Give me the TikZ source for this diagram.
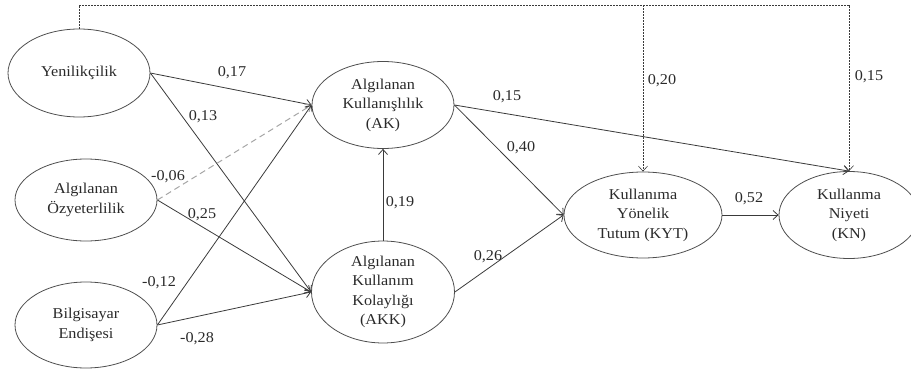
\documentclass[tikz,border=0pt]{standalone}
\usepackage{fontspec}
\setmainfont[FakeStretch=1.08]{Liberation Serif}
\usetikzlibrary{shapes.geometric,arrows.meta}
\definecolor{ln}{HTML}{3A3A3A}
\definecolor{tx}{HTML}{2A2A2A}
\tikzset{
  lv/.style={draw=ln!90, ellipse, line width=0.8pt, inner sep=0pt, align=center,
    text=tx, font=\fontsize{15}{19.5}\selectfont},
  pth/.style={draw=ln, line width=0.8pt, -{Straight Barb[length=5pt,width=9pt]}},
  dpth/.style={draw=ln, line width=0.6pt, dash pattern=on 2pt off 1pt, -{Straight Barb[length=5pt,width=9pt]}},
  gpth/.style={draw=black!35, line width=1pt, dash pattern=on 6pt off 4pt, -{Straight Barb[length=5pt,width=9pt]}},
  lbl/.style={text=tx, font=\fontsize{15}{16}\selectfont, inner sep=0pt}
}
\begin{document}
\begin{tikzpicture}[x=1pt,y=-1pt]
\useasboundingbox (0,0) rectangle (911,372);
\node[lv, minimum width=142pt, minimum height=88pt] (yen) at (79,73) {Yenilikçilik};
\node[lv, minimum width=142pt, minimum height=82pt] (oz) at (86,200) {Algılanan\\Özyeterlilik};
\node[lv, minimum width=142pt, minimum height=86pt] (be) at (86,325) {Bilgisayar\\Endişesi};
\node[lv, minimum width=142pt, minimum height=87pt] (ak) at (383,105) {Algılanan\\Kullanışlılık\\(AK)};
\node[lv, minimum width=143pt, minimum height=92pt] (akk) at (383,292) {Algılanan\\Kullanım\\Kolaylığı\\(AKK)};
\node[lv, minimum width=158pt, minimum height=86pt] (kyt) at (643,215) {Kullanıma\\Yönelik\\Tutum (KYT)};
\node[lv, minimum width=140pt, minimum height=87pt] (kn) at (849,215) {Kullanma\\Niyeti\\(KN)};
\coordinate (t1) at (79,5);
\coordinate (t2) at (849,5);
\coordinate (t3) at (643,5);
% top dashed paths
\draw[dpth] (yen.north) -- (t1) -- (t2) -- (kn.north);
\draw[dpth] (t3) -- (kyt.north);
% structural paths
\draw[pth] (yen.east) -- (ak.west);
\draw[pth] (yen.east) -- (akk.west);
\draw[gpth] (oz.east) -- (ak.west);
\draw[pth] (oz.east) -- (akk.west);
\draw[pth] (be.east) -- (ak.west);
\draw[pth] (be.east) -- (akk.west);
\draw[pth] (akk.north) -- (ak.south);
\draw[pth] (ak.east) -- (kn.north);
\draw[pth] (ak.east) -- (kyt.west);
\draw[pth] (akk.east) -- (kyt.west);
\draw[pth] (kyt.east) -- (kn.west);
% labels
\node[lbl] (l1) at (232,73) {0,17};
\node[lbl] (l2) at (203,117) {0,13};
\node[lbl] (l3) at (168,177) {-0,06};
\node[lbl] (l4) at (202,215) {0,25};
\node[lbl] (l5) at (159,283) {-0,12};
\node[lbl] (l6) at (197,339) {-0,28};
\node[lbl] (l7) at (400,203) {0,19};
\node[lbl] (l8) at (507,97) {0,15};
\node[lbl] (l9) at (521,148) {0,40};
\node[lbl] (l10) at (488,257) {0,26};
\node[lbl] (l11) at (749,199) {0,52};
\node[lbl] (l12) at (662,81) {0,20};
\node[lbl] (l13) at (869,77) {0,15};
\end{tikzpicture}
\end{document}
